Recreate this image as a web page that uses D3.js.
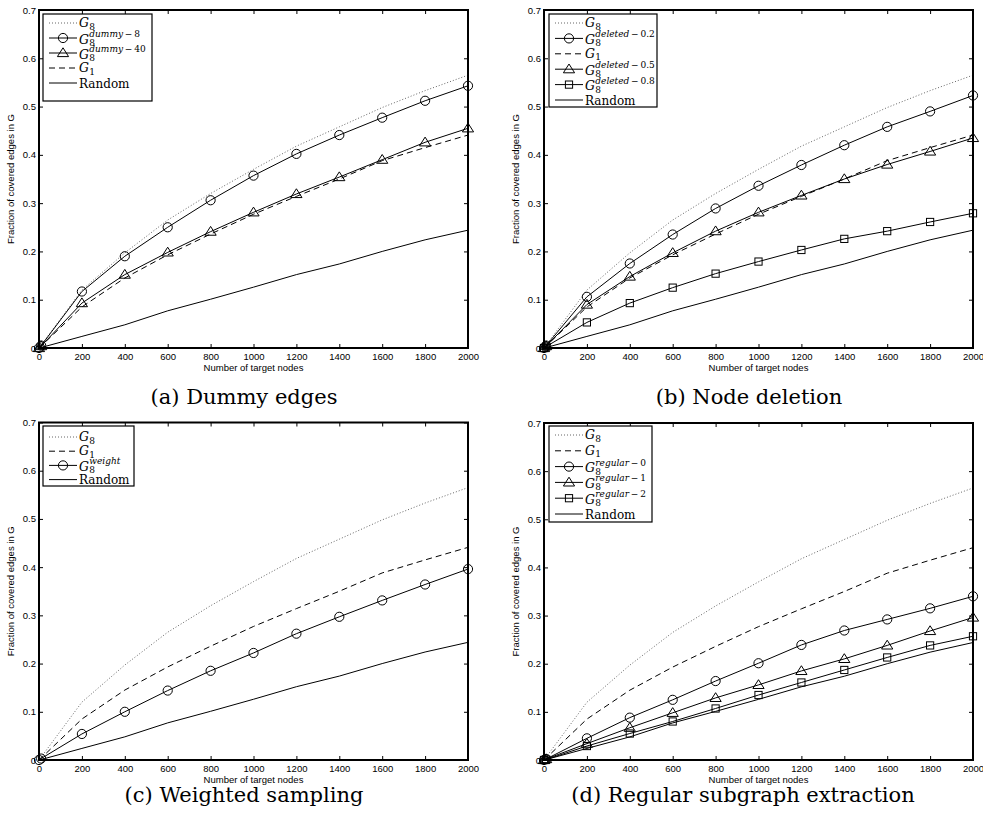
<!DOCTYPE html>
<html lang="en">
<head>
<meta charset="utf-8">
<style>
    body { margin: 0; background: #fff; }
    .tick text { font: 9.5px "Liberation Sans", Arial, sans-serif; fill: #000; }
    .tick line { stroke: #000; stroke-width: 1; }
    .axis-title { font: 9.5px "Liberation Sans", Arial, sans-serif; fill: #000; }
    .caption { font: 21px "DejaVu Serif", serif; fill: #000; }
    .leg { font: 12px "DejaVu Serif", serif; fill: #000; }
    .leg-it { font: italic 12.5px "DejaVu Serif", serif; fill: #000; }
    .leg-sub { font: 9px "DejaVu Serif", serif; fill: #000; }
    .leg-sup { font: 9px "DejaVu Serif", serif; fill: #000; }
</style>
</head>
<body>
<svg width="983" height="823"></svg>
<script src="https://cdn.jsdelivr.net/npm/d3@7"></script>
<script>
    // x values (number of target nodes)
    var nodes = [0, 10, 200, 400, 600, 800, 1000, 1200, 1400, 1600, 1800, 2000];
    var xTicks = [0, 200, 400, 600, 800, 1000, 1200, 1400, 1600, 1800, 2000];
    var yTicks = [0, 0.1, 0.2, 0.3, 0.4, 0.5, 0.6, 0.7];

    // fraction of covered edges
    var g8      = [0, 0.006, 0.120, 0.197, 0.265, 0.320, 0.370, 0.418, 0.458, 0.498, 0.533, 0.565];
    var g1      = [0, 0.004, 0.085, 0.145, 0.193, 0.236, 0.277, 0.314, 0.350, 0.388, 0.415, 0.441];
    var random  = [0, 0.001, 0.024, 0.048, 0.077, 0.101, 0.126, 0.152, 0.174, 0.200, 0.224, 0.244];
    var dummy8  = [0, 0.005, 0.117, 0.190, 0.250, 0.306, 0.357, 0.402, 0.441, 0.477, 0.512, 0.543];
    var dummy40 = [0, 0.004, 0.093, 0.152, 0.198, 0.241, 0.281, 0.319, 0.354, 0.390, 0.426, 0.455];
    var del02   = [0, 0.005, 0.106, 0.175, 0.235, 0.289, 0.336, 0.379, 0.420, 0.458, 0.490, 0.523];
    var del05   = [0, 0.004, 0.090, 0.148, 0.197, 0.242, 0.281, 0.316, 0.350, 0.380, 0.407, 0.435];
    var del08   = [0, 0.003, 0.053, 0.093, 0.125, 0.154, 0.179, 0.203, 0.226, 0.242, 0.261, 0.279];
    var weight  = [0, 0.003, 0.054, 0.100, 0.144, 0.185, 0.222, 0.262, 0.297, 0.331, 0.364, 0.396];
    var reg0    = [0, 0.002, 0.045, 0.088, 0.125, 0.164, 0.201, 0.239, 0.269, 0.292, 0.315, 0.340];
    var reg1    = [0, 0.002, 0.034, 0.067, 0.098, 0.129, 0.156, 0.185, 0.210, 0.238, 0.268, 0.296];
    var reg2    = [0, 0.001, 0.029, 0.055, 0.080, 0.107, 0.135, 0.161, 0.187, 0.213, 0.238, 0.257];

    var S_G8 = { sub: "8", values: g8, style: "dot" };
    var S_G1 = { sub: "1", values: g1, style: "dash" };
    var S_RND = { name: "Random", values: random, style: "solid" };

    var M = "\u2009\u2212\u2009"; // spaced minus, as in the math labels

    var panels = [
        { caption: "(a) Dummy edges", series: [
            S_G8,
            { sub: "8", sup: ["dummy", M + "8"], values: dummy8, style: "solid", marker: "circle" },
            { sub: "8", sup: ["dummy", M + "40"], values: dummy40, style: "solid", marker: "triangle" },
            S_G1, S_RND] },
        { caption: "(b) Node deletion", series: [
            S_G8,
            { sub: "8", sup: ["deleted", M + "0.2"], values: del02, style: "solid", marker: "circle" },
            S_G1,
            { sub: "8", sup: ["deleted", M + "0.5"], values: del05, style: "solid", marker: "triangle" },
            { sub: "8", sup: ["deleted", M + "0.8"], values: del08, style: "solid", marker: "square" },
            S_RND] },
        { caption: "(c) Weighted sampling", series: [
            S_G8, S_G1,
            { sub: "8", sup: ["weight", ""], values: weight, style: "solid", marker: "circle" },
            S_RND] },
        { caption: "(d) Regular subgraph extraction", series: [
            S_G8, S_G1,
            { sub: "8", sup: ["regular", M + "0"], values: reg0, style: "solid", marker: "circle" },
            { sub: "8", sup: ["regular", M + "1"], values: reg1, style: "solid", marker: "triangle" },
            { sub: "8", sup: ["regular", M + "2"], values: reg2, style: "solid", marker: "square" },
            S_RND] }
    ];

    // layout of the four sub-figures
    var frames = [
        { left: 39, right: 468, top: 10, bottom: 348, capX: 244, capY: 404,
          leg: { x: 43, y: 14, w: 109, h: 87, row0: 23, step: 15 } },
        { left: 544, right: 973, top: 10, bottom: 348, capX: 749, capY: 404,
          leg: { x: 549, y: 14, w: 108, h: 93, row0: 23, step: 15.4 } },
        { left: 39, right: 468, top: 422.5, bottom: 760, capX: 244, capY: 802,
          leg: { x: 43, y: 426, w: 91, h: 60, row0: 437, step: 14.2 } },
        { left: 544, right: 973, top: 423, bottom: 760, capX: 743, capY: 802,
          leg: { x: 549, y: 426, w: 103, h: 96, row0: 435, step: 15.8 } }
    ];

    var dashes = { dot: "1,2", dash: "6,4", solid: null };
    var strokes = { dot: "#666", dash: "#000", solid: "#000" };

    var svg = d3.select("svg");

    function drawMarker(sel, type, cx, cy) {
        if (type === "circle") {
            sel.append("circle").attr("cx", cx).attr("cy", cy).attr("r", 4.6)
                .attr("fill", "none").attr("stroke", "#000");
        } else if (type === "triangle") {
            sel.append("path")
                .attr("d", "M" + cx + "," + (cy - 5.2) + "L" + (cx + 5.6) + "," + (cy + 3.6) + "L" + (cx - 5.6) + "," + (cy + 3.6) + "Z")
                .attr("fill", "none").attr("stroke", "#000");
        } else if (type === "square") {
            sel.append("rect").attr("x", cx - 3.6).attr("y", cy - 3.6).attr("width", 7.2).attr("height", 7.2)
                .attr("fill", "none").attr("stroke", "#000");
        }
    }

    function drawLabel(sel, lx, ly, s) {
        if (s.name) {
            sel.append("text").attr("class", "leg").attr("x", lx).attr("y", ly + 4.5).text(s.name);
            return;
        }
        var base = s.sup ? ly + 5.5 : ly + 4;
        var t = sel.append("text").attr("class", "leg-it").attr("x", lx).attr("y", base).text("G");
        var w = t.node().getComputedTextLength();
        sel.append("text").attr("class", "leg-sub").attr("x", lx + w + 0.3).attr("y", base + 2.5).text(s.sub);
        if (s.sup) {
            var st = sel.append("text").attr("class", "leg-sup").attr("x", lx + w + 0.3).attr("y", ly - 1);
            st.append("tspan").attr("font-style", "italic").text(s.sup[0]);
            st.append("tspan").text(s.sup[1]);
        }
    }

    panels.forEach(function (p, i) {
        var f = frames[i];
        var x = d3.scaleLinear().domain([0, 2000]).range([f.left, f.right]);
        var y = d3.scaleLinear().domain([0, 0.7]).range([f.bottom, f.top]);
        var g = svg.append("g");

        // axes, ticks pointing inward on all four sides
        g.append("g").attr("transform", "translate(0," + f.bottom + ")")
            .call(d3.axisBottom(x).tickValues(xTicks).tickSize(-4).tickPadding(5).tickFormat(d3.format("d")));
        g.append("g").attr("transform", "translate(0," + f.top + ")")
            .call(d3.axisTop(x).tickValues(xTicks).tickSize(-4).tickFormat(""));
        g.append("g").attr("transform", "translate(" + f.left + ",0)")
            .call(d3.axisLeft(y).tickValues(yTicks).tickSize(-4).tickPadding(3)
                .tickFormat(function (d) { return d === 0 ? "0" : d3.format(".1f")(d); }));
        g.append("g").attr("transform", "translate(" + f.right + ",0)")
            .call(d3.axisRight(y).tickValues(yTicks).tickSize(-4).tickFormat(""));
        g.selectAll(".domain").remove();

        g.append("text").attr("class", "axis-title")
            .attr("x", (f.left + f.right) / 2).attr("y", f.bottom + 23)
            .attr("text-anchor", "middle").text("Number of target nodes");
        g.append("text").attr("class", "axis-title")
            .attr("transform", "translate(" + (f.left - 25) + "," + ((f.top + f.bottom) / 2) + ") rotate(-90)")
            .attr("text-anchor", "middle").text("Fraction of covered edges in G");

        var line = d3.line()
            .x(function (d, j) { return x(nodes[j]); })
            .y(function (d) { return y(d); });

        p.series.forEach(function (s) {
            g.append("path")
                .attr("d", line(s.values))
                .attr("fill", "none")
                .attr("stroke", strokes[s.style])
                .attr("stroke-width", 1)
                .attr("stroke-dasharray", dashes[s.style]);
            if (s.marker) {
                s.values.forEach(function (v, j) { drawMarker(g, s.marker, x(nodes[j]), y(v)); });
            }
        });

        // plot box
        g.append("rect")
            .attr("x", f.left).attr("y", f.top)
            .attr("width", f.right - f.left).attr("height", f.bottom - f.top)
            .attr("fill", "none").attr("stroke", "#000").attr("stroke-width", 2);

        // legend
        var L = f.leg;
        var lg = g.append("g");
        lg.append("rect").attr("x", L.x).attr("y", L.y).attr("width", L.w).attr("height", L.h)
            .attr("fill", "#fff").attr("stroke", "#000").attr("stroke-width", 1.2);
        p.series.forEach(function (s, k) {
            var ry = L.row0 + k * L.step;
            lg.append("line")
                .attr("x1", L.x + 6).attr("x2", L.x + 34).attr("y1", ry).attr("y2", ry)
                .attr("stroke", strokes[s.style]).attr("stroke-width", 1)
                .attr("stroke-dasharray", dashes[s.style]);
            if (s.marker) drawMarker(lg, s.marker, L.x + 20, ry);
            drawLabel(lg, L.x + 36, ry, s);
        });

        svg.append("text").attr("class", "caption")
            .attr("x", f.capX).attr("y", f.capY)
            .attr("text-anchor", "middle").text(p.caption);
    });
</script>
</body>
</html>
